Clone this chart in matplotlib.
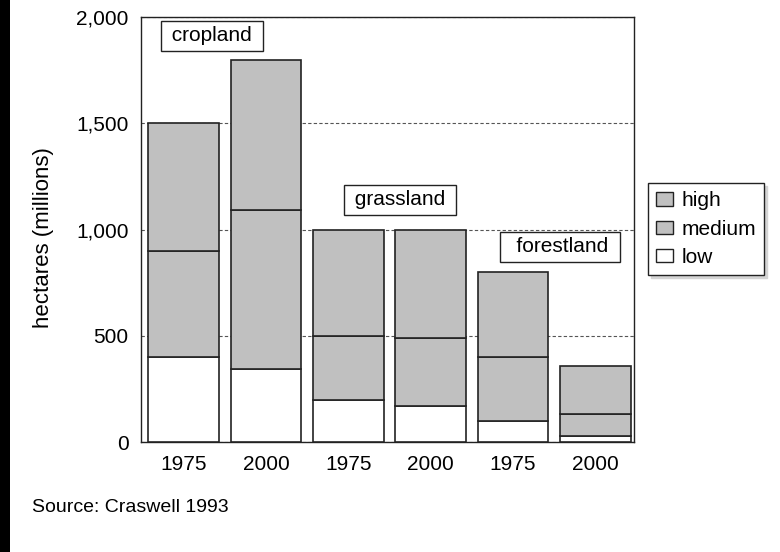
import numpy as np
import matplotlib.pyplot as plt
from matplotlib.patches import Patch

plt.rcParams['font.family'] = ['Liberation Sans', 'DejaVu Sans']

years = ['1975', '2000', '1975', '2000', '1975', '2000']
low = np.array([400, 345, 200, 170, 100, 30])
medium = np.array([500, 745, 300, 320, 300, 100])   # top of medium minus low
high = np.array([600, 710, 500, 510, 400, 230])     # total minus medium top
land = ['cropland', 'grassland', 'forestland']

grey = '#c0c0c0'
fig = plt.figure(figsize=(7.8, 5.52), dpi=100)
ax = fig.add_axes([141 / 780, 1 - 442 / 552, 493 / 780, 425 / 552])

x = np.arange(len(years))
w = 0.86
ax.bar(x, low, w, color='white', edgecolor='#222222', linewidth=1.2, zorder=3)
ax.bar(x, medium, w, bottom=low, color=grey, edgecolor='#222222', linewidth=1.2, zorder=3)
ax.bar(x, high, w, bottom=low + medium, color=grey, edgecolor='#222222', linewidth=1.2, zorder=3)

ax.set_xlim(-0.52, 5.47)
ax.set_ylim(0, 2000)
ax.set_yticks([0, 500, 1000, 1500, 2000])
ax.set_yticklabels(['0', '500', '1,000', '1,500', '2,000'], fontsize=15)
ax.set_xticks(x)
ax.set_xticklabels(years, fontsize=15)
ax.tick_params(axis='y', length=0, pad=9)
ax.tick_params(axis='x', length=0, pad=9)
ax.yaxis.grid(True, linestyle=(0, (3, 2)), color='#555555', linewidth=0.8, zorder=0)
for s in ax.spines.values():
    s.set_color('#222222')
    s.set_linewidth(1)
ax.set_ylabel('hectares (millions)', fontsize=16)
ax.yaxis.set_label_coords(-0.176, 0.482)

box = dict(boxstyle='square,pad=0.25', facecolor='white', edgecolor='#222222', linewidth=1)
ax.text(0.34, 1911, ' ' + land[0] + ' ', fontsize=15, ha='center', va='center', bbox=box, zorder=5)
ax.text(2.63, 1139, ' ' + land[1] + ' ', fontsize=15, ha='center', va='center', bbox=box, zorder=5)
ax.text(4.57, 918, '  ' + land[2] + ' ', fontsize=15, ha='center', va='center', bbox=box, zorder=5)

handles = [Patch(facecolor=grey, edgecolor='#222222', label='high'),
           Patch(facecolor=grey, edgecolor='#222222', label='medium'),
           Patch(facecolor='white', edgecolor='#222222', label='low')]
leg = ax.legend(handles=handles, loc='upper left', bbox_to_anchor=(648 / 780, 1 - 183 / 552),
                bbox_transform=fig.transFigure, fontsize=15, frameon=True, fancybox=False,
                shadow={'color': '#d4d4d4', 'alpha': 1}, handlelength=0.8, handleheight=0.6,
                handletextpad=0.4, borderaxespad=0, borderpad=0.4, labelspacing=0.45)
leg.get_frame().set_edgecolor('#222222')
leg.get_frame().set_linewidth(1)

fig.text(32 / 780, 1 - 507 / 552, 'Source: Craswell 1993', fontsize=14, va='center')
fig.add_artist(plt.Line2D([5 / 780, 5 / 780], [0, 1], color='black', linewidth=7.2,
                          transform=fig.transFigure))

fig.savefig('out.png', dpi=100)
